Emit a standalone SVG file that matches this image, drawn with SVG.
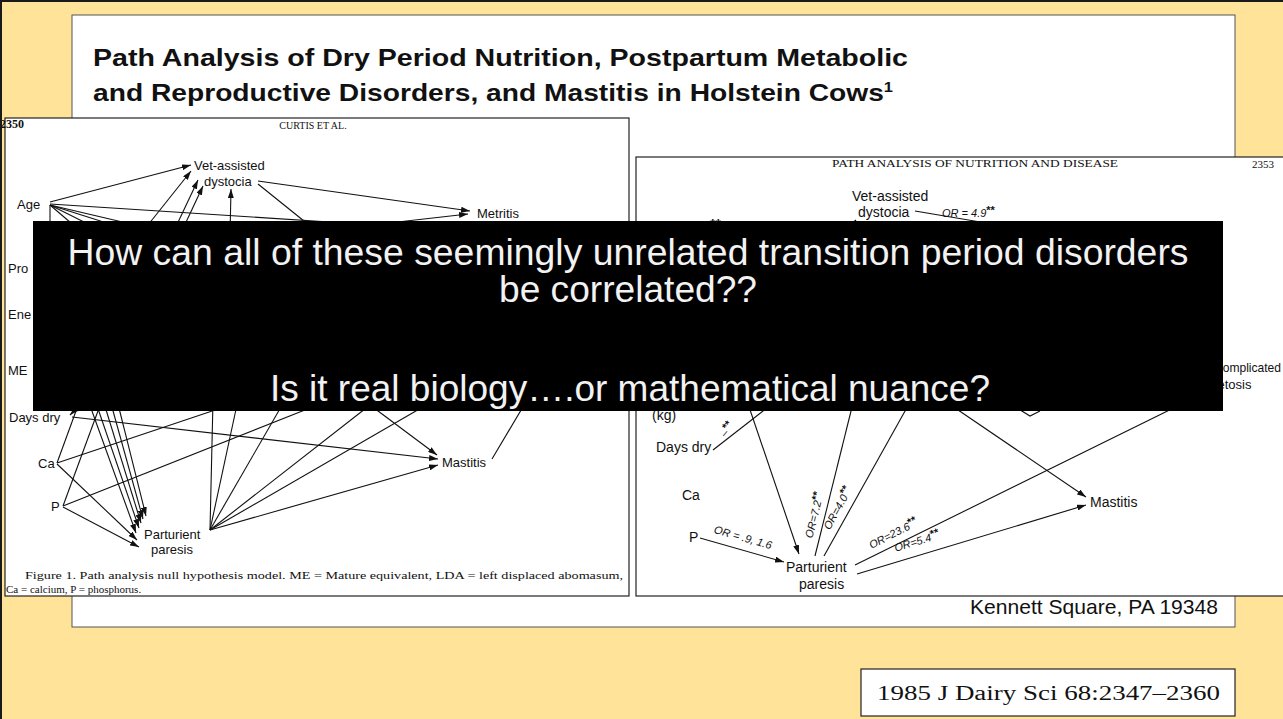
<svg xmlns="http://www.w3.org/2000/svg" width="1283" height="719" viewBox="0 0 1283 719">
<style>
.bg{fill:#FFE398}
.panel{fill:#fff;stroke:#555;stroke-width:1}
.scan{fill:#fff;stroke:#222;stroke-width:1.2}
.title{font-family:"Liberation Sans",Arial,sans-serif;font-weight:bold;font-size:24px;fill:#111}
.lab{font-family:"Liberation Sans",Arial,sans-serif;font-size:13px;fill:#111}
.labr{font-family:"Liberation Sans",Arial,sans-serif;font-size:14px;fill:#111}
.or{font-family:"Liberation Sans",Arial,sans-serif;font-size:11px;font-style:italic;fill:#111}
.ser{font-family:"Liberation Serif","Times New Roman",serif;fill:#111}
.big{font-family:"Liberation Sans",Arial,sans-serif;font-size:36px;fill:#F2F2F2}
.c line,.c path{stroke:#111;stroke-width:1.1;fill:none}
</style>
<defs>
<marker id="ah" markerUnits="userSpaceOnUse" markerWidth="9" markerHeight="6" refX="9" refY="3" orient="auto">
<path d="M0,0 L9,3 L0,6 z" fill="#111"/>
</marker>
</defs>
<rect class="bg" x="0" y="0" width="1283" height="719"/>
<g id="panel">
<rect class="panel" x="72" y="15" width="1163" height="612"/>
<text class="title" x="93" y="66" textLength="815" lengthAdjust="spacingAndGlyphs">Path Analysis of Dry Period Nutrition, Postpartum Metabolic</text>
<text class="title" x="93" y="101" textLength="800" lengthAdjust="spacingAndGlyphs">and Reproductive Disorders, and Mastitis in Holstein Cows<tspan font-size="14" dy="-9">1</tspan></text>
<text x="970" y="614" font-family="Liberation Sans, Arial, sans-serif" font-size="21" fill="#111" textLength="248" lengthAdjust="spacingAndGlyphs">Kennett Square, PA 19348</text>
</g>
<g id="left-figure">
<rect class="scan" x="5" y="118" width="624" height="478"/>
<text class="ser" x="0" y="128" font-size="12" font-weight="bold">2350</text>
<text class="ser" x="313" y="129" font-size="10" text-anchor="middle">CURTIS ET AL.</text>
<g class="c" id="left-connectors">
<line x1="50" y1="202" x2="191" y2="165" marker-end="url(#ah)"/>
<line x1="258" y1="181" x2="470" y2="211" marker-end="url(#ah)"/>
<line x1="258" y1="184" x2="340" y2="250"/>
<line x1="50" y1="204" x2="360" y2="224"/>
<line x1="50" y1="205" x2="50" y2="240"/>
<line x1="50" y1="205" x2="85" y2="235"/>
<line x1="50" y1="205" x2="110" y2="235"/>
<line x1="50" y1="205" x2="135" y2="232"/>
<line x1="50" y1="205" x2="165" y2="232"/>
<line x1="140" y1="235" x2="191" y2="171" marker-end="url(#ah)"/>
<line x1="172" y1="235" x2="198" y2="180" marker-end="url(#ah)"/>
<line x1="180" y1="235" x2="203" y2="186" marker-end="url(#ah)"/>
<line x1="230" y1="235" x2="231" y2="189" marker-end="url(#ah)"/>
<line x1="380" y1="224" x2="468" y2="214" marker-end="url(#ah)"/>
<line x1="72" y1="417" x2="438" y2="459" marker-end="url(#ah)"/>
<line x1="85" y1="400" x2="70" y2="415" marker-end="url(#ah)"/>
<line x1="57" y1="463" x2="80" y2="400"/>
<line x1="57" y1="463" x2="245" y2="400"/>
<line x1="57" y1="464" x2="137" y2="540" marker-end="url(#ah)"/>
<line x1="63" y1="506" x2="102" y2="400"/>
<line x1="63" y1="506" x2="320" y2="404"/>
<line x1="63" y1="507" x2="139" y2="547" marker-end="url(#ah)"/>
<line x1="88" y1="400" x2="136" y2="533" marker-end="url(#ah)"/>
<line x1="95" y1="400" x2="139" y2="528" marker-end="url(#ah)"/>
<line x1="103" y1="400" x2="141" y2="523" marker-end="url(#ah)"/>
<line x1="110" y1="400" x2="143" y2="519" marker-end="url(#ah)"/>
<line x1="117" y1="400" x2="146" y2="516" marker-end="url(#ah)"/>
<line x1="210" y1="530" x2="213" y2="400"/>
<line x1="210" y1="530" x2="238" y2="400"/>
<line x1="210" y1="530" x2="285" y2="400"/>
<line x1="210" y1="530" x2="370" y2="405"/>
<line x1="210" y1="530" x2="428" y2="404"/>
<line x1="210" y1="530" x2="438" y2="465" marker-end="url(#ah)"/>
<line x1="370" y1="405" x2="437" y2="455" marker-end="url(#ah)"/>
<line x1="492" y1="459" x2="530" y2="395"/>
</g>
<g id="n-vet"><text class="lab" x="194" y="170">Vet-assisted</text><text class="lab" x="204" y="186">dystocia</text></g>
<g id="n-age"><text class="lab" x="17" y="209">Age</text></g>
<g id="n-metritis"><text class="lab" x="477" y="218">Metritis</text></g>
<g id="n-pro"><text class="lab" x="8" y="273">Pro</text></g>
<g id="n-ene"><text class="lab" x="8" y="319">Ene</text></g>
<g id="n-me"><text class="lab" x="8" y="375">ME</text></g>
<g id="n-daysdry"><text class="lab" x="9" y="422">Days dry</text></g>
<g id="n-ca"><text class="lab" x="38" y="468">Ca</text></g>
<g id="n-p"><text class="lab" x="51" y="511">P</text></g>
<g id="n-pp"><text class="lab" x="144" y="539">Parturient</text><text class="lab" x="151" y="554">paresis</text></g>
<g id="n-mastitis"><text class="lab" x="442" y="467">Mastitis</text></g>
<text class="ser" x="25" y="579" font-size="11" textLength="598" lengthAdjust="spacingAndGlyphs">Figure 1. Path analysis null hypothesis model. ME = Mature equivalent, LDA = left displaced abomasum,</text>
<text class="ser" x="6" y="593" font-size="11">Ca = calcium, P = phosphorus.</text>
</g>
<g id="right-figure">
<rect class="scan" x="636" y="157" width="660" height="439"/>
<text class="ser" x="975" y="167" font-size="10" text-anchor="middle" textLength="286" lengthAdjust="spacingAndGlyphs">PATH ANALYSIS OF NUTRITION AND DISEASE</text>
<text class="ser" x="1252" y="168" font-size="11">2353</text>
<g class="c" id="right-connectors">
<line x1="915" y1="211" x2="1010" y2="227"/>
<line x1="838" y1="238" x2="856" y2="220" marker-end="url(#ah)"/>
<line x1="713" y1="450" x2="790" y2="390"/>
<line x1="745" y1="395" x2="799" y2="554" marker-end="url(#ah)"/>
<line x1="815" y1="556" x2="855" y2="395"/>
<line x1="824" y1="556" x2="914" y2="395"/>
<line x1="936" y1="395" x2="1086" y2="497" marker-end="url(#ah)"/>
<line x1="855" y1="565" x2="1200" y2="395"/>
<line x1="857" y1="574" x2="1086" y2="505" marker-end="url(#ah)"/>
<line x1="700" y1="538" x2="784" y2="562" marker-end="url(#ah)"/>
<path d="M1017,408 L1030,416 L1040,411"/>
</g>
<g id="rn-vet"><text class="labr" x="852" y="201">Vet-assisted</text><text class="labr" x="858" y="217">dystocia</text></g>
<text class="or" x="942" y="217">OR = 4.9<tspan font-style="normal" font-weight="bold" dy="-3">**</tspan></text>
<text class="labr" x="710" y="229" font-weight="bold">**</text>
<g id="rn-kg"><text class="labr" x="652" y="420">(kg)</text></g>
<g id="rn-daysdry"><text class="labr" x="656" y="452">Days dry</text></g>
<text class="or" transform="translate(730,432) rotate(-50)" text-anchor="middle">–<tspan font-style="normal" font-weight="bold" dy="-3">**</tspan></text>
<g id="rn-ca"><text class="labr" x="682" y="500">Ca</text></g>
<g id="rn-p"><text class="labr" x="689" y="542">P</text></g>
<text class="or" transform="translate(742,541) rotate(16)" text-anchor="middle">OR = .9, 1.6</text>
<g id="rn-pp"><text class="labr" x="786" y="572">Parturient</text><text class="labr" x="799" y="589">paresis</text></g>
<text class="or" transform="translate(818,516) rotate(-76)" text-anchor="middle">OR=7.2<tspan font-style="normal" font-weight="bold" dy="-3">**</tspan></text>
<text class="or" transform="translate(841,510) rotate(-61)" text-anchor="middle">OR=4.0<tspan font-style="normal" font-weight="bold" dy="-3">**</tspan></text>
<text class="or" transform="translate(895,537) rotate(-27)" text-anchor="middle">OR=23.6<tspan font-style="normal" font-weight="bold" dy="-3">**</tspan></text>
<text class="or" transform="translate(918,545) rotate(-17)" text-anchor="middle">OR=5.4<tspan font-style="normal" font-weight="bold" dy="-3">**</tspan></text>
<g id="rn-mastitis"><text class="labr" x="1090" y="507">Mastitis</text></g>
<g id="rn-ck"><text class="lab" x="1214" y="372" font-size="12" textLength="67" lengthAdjust="spacingAndGlyphs">Complicated</text><text class="lab" x="1211" y="389" font-size="12">ketosis</text></g>
</g>
<g id="question-box">
<rect x="33" y="221" width="1190" height="190" fill="#000"/>
<text class="big" x="628" y="265" text-anchor="middle" textLength="1121" lengthAdjust="spacingAndGlyphs">How can all of these seemingly unrelated transition period disorders</text>
<text class="big" x="628" y="302" text-anchor="middle" textLength="258" lengthAdjust="spacingAndGlyphs">be correlated??</text>
<text class="big" x="630" y="401" text-anchor="middle" textLength="720" lengthAdjust="spacingAndGlyphs">Is it real biology….or mathematical nuance?</text>
</g>
<g id="citation">
<rect x="861" y="669" width="374" height="47" fill="#fff" stroke="#222" stroke-width="1.2"/>
<text class="ser" x="877" y="700" font-size="20" textLength="343" lengthAdjust="spacingAndGlyphs">1985 J Dairy Sci 68:2347–2360</text>
</g>
<path d="M0,719 L0,0 L1283,0" fill="none" stroke="#1a1a1a" stroke-width="4"/>
</svg>
